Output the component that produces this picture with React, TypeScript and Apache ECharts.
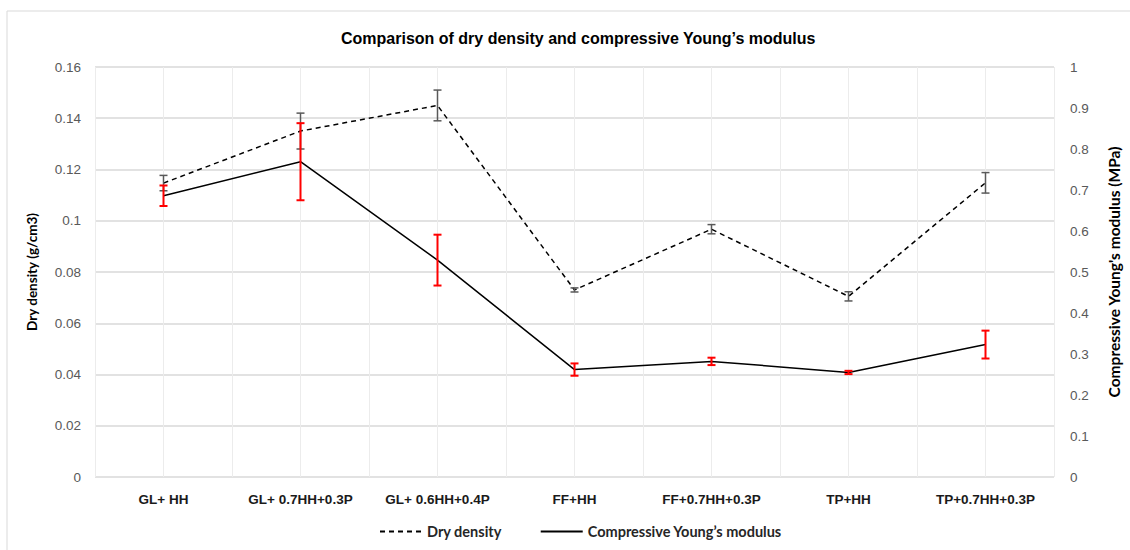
import React, { useEffect, useRef } from "react";
import * as echarts from "echarts";

const categories = [
  "GL+ HH",
  "GL+ 0.7HH+0.3P",
  "GL+ 0.6HH+0.4P",
  "FF+HH",
  "FF+0.7HH+0.3P",
  "TP+HH",
  "TP+0.7HH+0.3P",
];
const dryDensity = [0.1147, 0.135, 0.145, 0.073, 0.0967, 0.0705, 0.1148];
const dryDensityErr = [0.003, 0.007, 0.006, 0.0008, 0.0018, 0.0018, 0.004];
const modulus = [0.686, 0.769, 0.529, 0.262, 0.282, 0.255, 0.323];
const modulusErr = [0.025, 0.094, 0.062, 0.015, 0.009, 0.004, 0.034];
const leftTicks = { min: 0, max: 0.16, interval: 0.02 };
const rightTicks = { min: 0, max: 1, interval: 0.1 };

const LEGEND_DRY = "Dry density";
const LEGEND_MOD = "Compressive Young\u2019s modulus";

function errorSeries(values: number[], errs: number[], yAxisIndex: number, color: string, width: number) {
  const data = values.map((v, i) => [i, v - errs[i], v + errs[i]]);
  return {
    type: "custom",
    xAxisIndex: 0,
    yAxisIndex,
    silent: true,
    z: 5,
    renderItem: (params: any, api: any) => {
      const lo = api.coord([api.value(0), api.value(1)]);
      const hi = api.coord([api.value(0), api.value(2)]);
      const cap = 4;
      const style = { stroke: color, lineWidth: width };
      return {
        type: "group",
        children: [
          { type: "line", shape: { x1: lo[0], y1: lo[1], x2: hi[0], y2: hi[1] }, style },
          { type: "line", shape: { x1: lo[0] - cap, y1: lo[1], x2: lo[0] + cap, y2: lo[1] }, style },
          { type: "line", shape: { x1: hi[0] - cap, y1: hi[1], x2: hi[0] + cap, y2: hi[1] }, style },
        ],
      };
    },
    encode: { x: 0, y: [1, 2] },
    data,
  };
}

export default function App() {
  const ref = useRef<HTMLDivElement>(null);
  useEffect(() => {
    if (!ref.current) return;
    const chart = echarts.init(ref.current, null, { renderer: "svg" });
    const labelFont = "Liberation Sans, Arial, sans-serif";
    const nameFont = "Lato, sans-serif";
    chart.setOption({
      animation: false,
      backgroundColor: "#fff",
      graphic: [
        {
          type: "rect",
          shape: { x: 7, y: 11, width: 1200, height: 600 },
          style: { fill: "none", stroke: "#d9d9d9", lineWidth: 1 },
          z: -10,
        },
      ],
      title: {
        text: "Comparison of dry density and compressive Young\u2019s modulus",
        left: 336,
        top: 25,
        textStyle: { fontFamily: labelFont, fontSize: 16, fontWeight: "bold", color: "#000" },
      },
      legend: {
        bottom: 6,
        left: 374,
        itemWidth: 42,
        itemHeight: 10,
        itemGap: 38,
        itemStyle: { opacity: 0 },
        data: [LEGEND_DRY, LEGEND_MOD],
        textStyle: { fontFamily: nameFont, fontSize: 14.5, fontWeight: "bold", color: "#262626" },
      },
      grid: { left: 95, right: 68, top: 67, bottom: 73 },
      xAxis: [
        {
          type: "category",
          data: categories,
          boundaryGap: true,
          axisLine: { show: false },
          axisTick: { show: false },
          splitLine: { show: false },
          axisLabel: {
            fontFamily: labelFont,
            fontSize: 13.5,
            fontWeight: "bold",
            color: "#1a1a1a",
            margin: 15,
            interval: 0,
          },
        },
        {
          type: "value",
          min: 0,
          max: categories.length * 2,
          interval: 1,
          show: true,
          axisLine: { show: false },
          axisTick: { show: false },
          axisLabel: { show: false },
          splitLine: { show: true, lineStyle: { color: "#ececec", width: 1 } },
        },
      ],
      yAxis: [
        {
          type: "value",
          ...leftTicks,
          position: "left",
          name: "Dry density (g/cm3)",
          nameLocation: "middle",
          nameGap: 56,
          nameTextStyle: { fontFamily: nameFont, fontSize: 13.5, fontWeight: "bold", color: "#000" },
          axisLine: { show: false },
          axisTick: { show: false },
          axisLabel: { fontFamily: labelFont, fontSize: 13.5, color: "#595959", margin: 14 },
          splitLine: { show: true, lineStyle: { color: "#d9d9d9", width: 1.5 } },
        },
        {
          type: "value",
          ...rightTicks,
          position: "right",
          name: "Compressive Young's modulus (MPa)",
          nameLocation: "middle",
          nameGap: 52,
          nameRotate: 90,
          nameTextStyle: { fontFamily: nameFont, fontSize: 15.5, fontWeight: "bold", color: "#000" },
          axisLine: { show: false },
          axisTick: { show: false },
          axisLabel: { fontFamily: labelFont, fontSize: 13.5, color: "#595959", margin: 16 },
          splitLine: { show: false },
        },
      ],
      series: [
        {
          name: LEGEND_DRY,
          type: "line",
          xAxisIndex: 0,
          yAxisIndex: 0,
          data: dryDensity,
          symbol: "none",
          itemStyle: { color: "#000" },
          lineStyle: { color: "#000", width: 1.5, type: [5, 4] },
          z: 3,
        },
        {
          name: LEGEND_MOD,
          type: "line",
          xAxisIndex: 0,
          yAxisIndex: 1,
          data: modulus,
          symbol: "none",
          itemStyle: { color: "#000" },
          lineStyle: { color: "#000", width: 1.5 },
          z: 3,
        },
        errorSeries(dryDensity, dryDensityErr, 0, "#595959", 1.5),
        errorSeries(modulus, modulusErr, 1, "#ff0000", 2),
      ],
    });
    return () => chart.dispose();
  }, []);
  return (
    <div
      ref={ref}
      style={{ position: "absolute", left: 0, top: 0, width: 1130, height: 550 }}
    />
  );
}
